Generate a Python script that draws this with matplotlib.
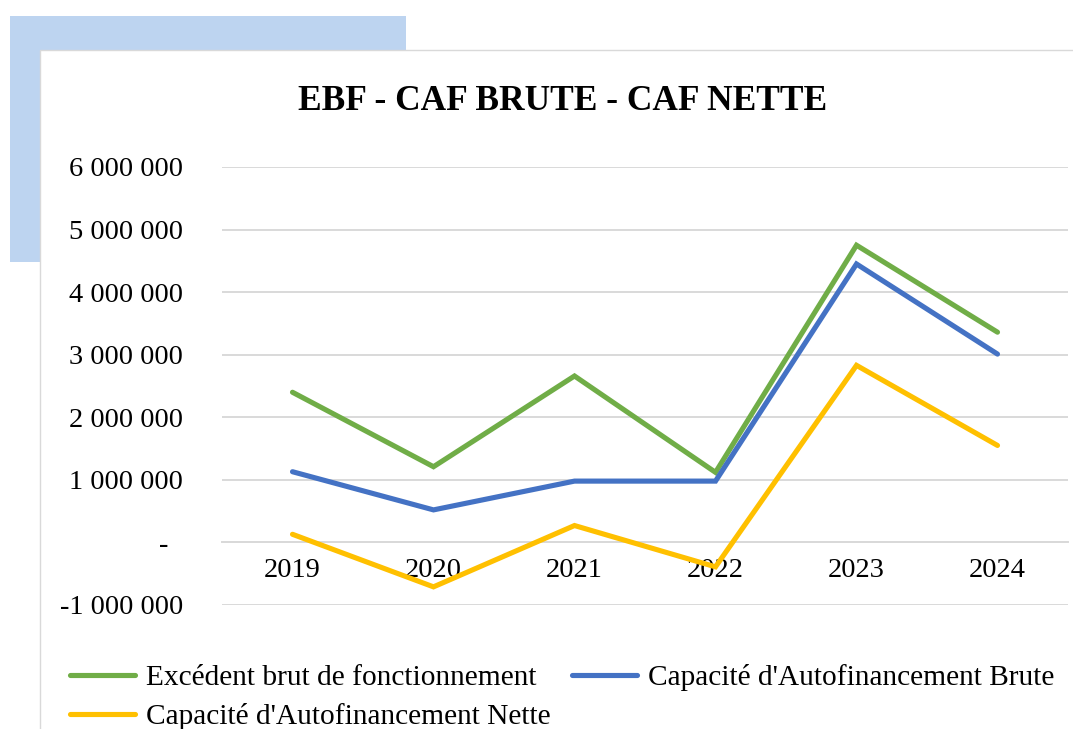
import matplotlib
matplotlib.use("Agg")
import matplotlib.pyplot as plt
from matplotlib.patches import Rectangle

years = ["2019", "2020", "2021", "2022", "2023", "2024"]
ebf = [2400000, 1210000, 2660000, 1120000, 4750000, 3360000]
caf_brute = [1130000, 520000, 980000, 980000, 4450000, 3010000]
caf_nette = [130000, -710000, 270000, -390000, 2830000, 1550000]
series_names = ["Excédent brut de fonctionnement",
                "Capacité d'Autofinancement Brute",
                "Capacité d'Autofinancement Nette"]
colors = ["#70AD47", "#4472C4", "#FFC000"]
yticks = [-1000000, 0, 1000000, 2000000, 3000000, 4000000, 5000000, 6000000]
ytick_labels = ["-1 000 000", "-  ", "1 000 000", "2 000 000", "3 000 000",
                "4 000 000", "5 000 000", "6 000 000"]
title = "EBF - CAF BRUTE - CAF NETTE"

W, H = 1073, 729
plt.rcParams['font.family'] = ['Liberation Serif', 'DejaVu Serif']
fig = plt.figure(figsize=(W / 100, H / 100), dpi=100)
fs = 20.5
lfs = 21.2

def fx(px):
    return px / W

def fy(py):
    return 1 - py / H

# background decorations
fig.patches.append(Rectangle((fx(10), fy(262)), fx(396), 246 / H,
                             transform=fig.transFigure, facecolor="#BDD4F0",
                             edgecolor="none", zorder=-3))
fig.patches.append(Rectangle((fx(40), -0.1), 1.2, fy(50) + 0.1,
                             transform=fig.transFigure, facecolor="white",
                             edgecolor="#D9D9D9", linewidth=1.0, zorder=-2))

ax = fig.add_axes([fx(222), fy(605), fx(1068) - fx(222), fy(167) - fy(605)])
ax.set_facecolor("none")
for s in ["top", "right", "left"]:
    ax.spines[s].set_visible(False)
ax.spines["bottom"].set_position(("data", 0))
ax.spines["bottom"].set_color("#D9D9D9")
ax.spines["bottom"].set_linewidth(1.4)

x = list(range(len(years)))
lines = []
for vals, name, c in zip([ebf, caf_brute, caf_nette], series_names, colors):
    ln, = ax.plot(x, vals, color=c, lw=3.7, label=name, solid_joinstyle="miter",
                  solid_capstyle="round", zorder=3)
    lines.append(ln)

ax.set_xlim(-0.5, len(years) - 0.5)
ax.set_ylim(-1000000, 6000000)
ax.set_yticks(yticks)
ax.set_yticklabels(ytick_labels)
ax.grid(axis="y", color="#D9D9D9", lw=1.4, zorder=0)
ax.set_xticks(x)
ax.set_xticklabels(years)
ax.tick_params(axis="y", length=0, pad=28, labelsize=fs, labelcolor="#000000")
ax.tick_params(axis="x", length=0, pad=11, labelsize=fs, labelcolor="#000000")

fig.text(fx(563), fy(110), title, fontsize=25.5, fontweight="bold",
         ha="center", va="baseline")

fig.legend([lines[0], lines[2], lines[1]],
           [series_names[0], series_names[2], series_names[1]],
           ncol=2, loc="upper left", bbox_to_anchor=(fx(70), fy(664)),
           frameon=False, fontsize=lfs, handlelength=2.21, handletextpad=0.37,
           columnspacing=0.74, labelspacing=0.42, borderpad=0, borderaxespad=0)

fig.savefig("out.png", dpi=100)
